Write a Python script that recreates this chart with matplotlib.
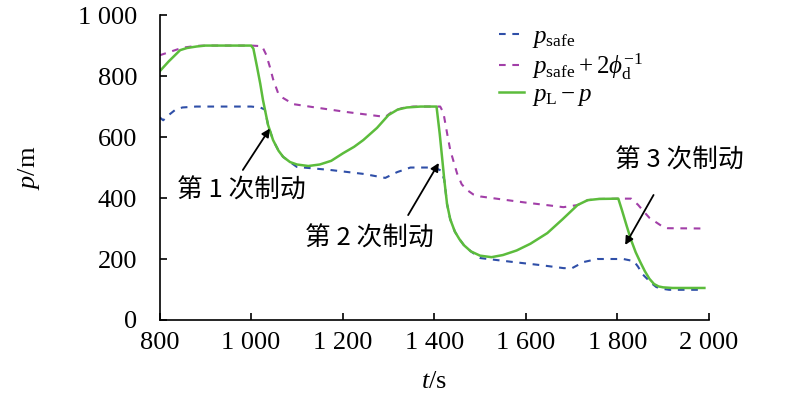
import matplotlib

matplotlib.use("Agg")
import matplotlib.pyplot as plt

plt.rcParams["font.family"] = ["Liberation Serif", "Noto Sans CJK SC"]
plt.rcParams["mathtext.fontset"] = "custom"
plt.rcParams["mathtext.rm"] = "Liberation Serif"
plt.rcParams["mathtext.it"] = "Liberation Serif:italic"

# ---- data ----
t_green = [800, 820, 845, 860, 881, 900, 950, 1000, 1005, 1013, 1020, 1026, 1037, 1048,
           1060, 1070, 1085, 1100, 1125, 1150, 1175, 1201, 1225, 1245, 1275, 1300, 1320,
           1340, 1370, 1405, 1412, 1418, 1422, 1428, 1435, 1445, 1455, 1465, 1480, 1500,
           1525, 1550, 1580, 1610, 1647, 1680, 1713, 1735, 1760, 1802, 1810, 1820, 1830,
           1840, 1850, 1860, 1870, 1880, 1890, 1900, 1920, 1990]
p_green = [815, 848, 885, 892, 897, 900, 900, 900, 890, 830, 775, 721, 640, 590,
           555, 535, 518, 510, 505, 510, 522, 547, 568, 590, 630, 672, 690,
           697, 700, 700, 610, 520, 459, 380, 330, 290, 265, 245, 225, 211,
           206, 213, 228, 250, 285, 330, 377, 393, 397, 398, 360, 310, 262,
           222, 190, 160, 135, 118, 110, 107, 105, 105]

t_safe = [800, 808, 820, 835, 850, 880, 1000, 1020, 1030, 1037, 1048, 1060, 1070, 1085,
          1100, 1173, 1246, 1293, 1319, 1348, 1400, 1415, 1422, 1428, 1435, 1445, 1455,
          1465, 1480, 1501, 1573, 1632, 1683, 1701, 1726, 1756, 1813, 1836, 1845, 1855,
          1865, 1875, 1885, 1900, 1913, 1990]
p_safe = [665, 655, 672, 690, 697, 700, 700, 697, 690, 640, 590, 555, 535, 518,
          502, 492, 479, 466, 485, 500, 500, 490, 459, 380, 330, 290, 265,
          245, 225, 203, 190, 180, 170, 170, 190, 200, 200, 193, 175, 150,
          135, 120, 108, 102, 99, 99]

t_upper = [800, 820, 850, 880, 900, 1000, 1024, 1033, 1041, 1048, 1059, 1070, 1092, 1136,
           1209, 1293, 1310, 1330, 1354, 1413, 1420, 1428, 1435, 1450, 1460, 1472, 1485,
           1501, 1550, 1600, 1650, 1682, 1713, 1735, 1760, 1810, 1830, 1845, 1858, 1870,
           1887, 1900, 1910, 1990]
p_upper = [868, 878, 893, 899, 900, 900, 898, 870, 830, 790, 744, 728, 708, 698,
           682, 666, 685, 695, 700, 700, 680, 613, 557, 480, 445, 426, 412,
           405, 395, 385, 376, 370, 377, 393, 397, 398, 398, 378, 355, 335,
           318, 305, 301, 300]

x_ticks = [800, 1000, 1200, 1400, 1600, 1800, 2000]
x_tick_labels = ["800", "1 000", "1 200", "1 400", "1 600", "1 800", "2 000"]
y_ticks = [0, 200, 400, 600, 800, 1000]
y_tick_labels = ["0", "200", "400", "600", "800", "1 000"]

# (label, text centre, arrow head, arrow tail)
notes = [("第 1 次制动", (978, 424), (1041, 628), (982, 492)),
         ("第 2 次制动", (1258, 267), (1410, 515), (1343, 344)),
         ("第 3 次制动", (1936, 523), (1817, 246), (1879, 410))]

fig = plt.figure(figsize=(8.0, 3.97), dpi=100)
ax = fig.add_axes([0.1994, 0.194, 0.6868, 0.768])

ax.plot(t_safe, p_safe, color="#2f4fa8", lw=1.5, ls=(0, (3.2, 3.2)),
        label=r"$p_{\mathrm{safe}}$")
ax.plot(t_upper, p_upper, color="#a23fa8", lw=1.5, ls=(0, (3.2, 3.2)),
        label=r"$p_{\mathrm{safe}}+2\phi_{\mathrm{d}}^{-1}$")
ax.plot(t_green, p_green, color="#5cbc3c", lw=1.8, label=r"$p_{\mathrm{L}}-p$")

for text, pos, head, tail in notes:
    ax.annotate("", xy=head, xytext=tail,
                arrowprops=dict(arrowstyle="-|>", color="black", lw=1.3,
                                mutation_scale=12, shrinkA=0, shrinkB=0))
    ax.text(pos[0], pos[1], text, fontsize=18.5, ha="center", va="center",
            family=["Noto Sans CJK SC", "Liberation Serif"])

ax.set_xlim(800, 2000)
ax.set_ylim(0, 1000)
ax.set_xticks(x_ticks)
ax.set_xticklabels(x_tick_labels)
ax.set_yticks(y_ticks)
ax.set_yticklabels(y_tick_labels)
ax.tick_params(direction="in", length=5, width=1.2, labelsize=19)
ax.tick_params(axis="x", pad=9)
ax.tick_params(axis="y", pad=16)
for side in ("top", "right"):
    ax.spines[side].set_visible(False)
for side in ("left", "bottom"):
    ax.spines[side].set_linewidth(1.2)

ax.set_xlabel(r"$t$/s", fontsize=19, labelpad=12)
ax.set_ylabel(r"$p$/m", fontsize=19, labelpad=26)

ax.legend(loc="upper left", bbox_to_anchor=(0.6, 1.0), frameon=False,
          fontsize=18, handlelength=1.0, handletextpad=0.3, labelspacing=0.05,
          borderaxespad=0)

fig.savefig("out.png", dpi=100)
